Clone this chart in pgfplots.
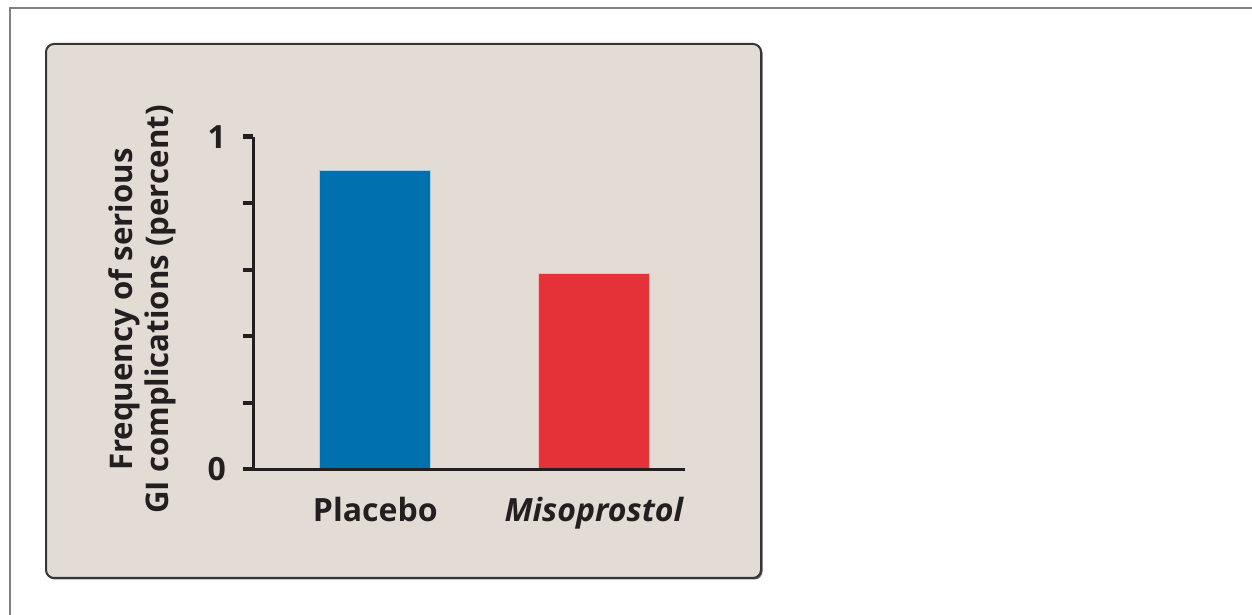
\documentclass[border=0pt]{standalone}
\usepackage{fontspec}
\setmainfont{Open Sans}
\usepackage{pgfplots}
\pgfplotsset{compat=1.18}

\definecolor{panelfill}{RGB}{226,220,212}
\definecolor{barblue}{RGB}{0,112,175}
\definecolor{barred}{RGB}{229,50,56}
\definecolor{framegray}{RGB}{128,128,128}
\definecolor{inkdark}{RGB}{35,31,32}

\newcommand{\ticksfont}{\bfseries\fontsize{16}{19}\selectfont}
\newcommand{\labelfont}{\bfseries\fontsize{15.6}{18}\selectfont}

\begin{document}
\begin{tikzpicture}
% page frame and panel, laid out on a half-point grid
\begin{scope}[x=0.5pt,y=0.5pt]
  \useasboundingbox (0,0) rectangle (1252,615);
  \fill[white] (0,0) rectangle (1252,615);
  \draw[framegray, line width=1pt] (9.5,0) -- (9.5,606.5) -- (1252,606.5);
  \fill[black!60, rounded corners=4pt] (47,35.5) rectangle (762.5,570);
  \filldraw[fill=panelfill, draw=inkdark!90, line width=1pt, rounded corners=4pt]
    (46,37) rectangle (761,571);
\end{scope}

\begin{axis}[
  at={(126.65pt,72.85pt)}, anchor=south west,
  scale only axis, width=215.85pt, height=166.3pt,
  xmin=-0.558, xmax=1.417, ymin=0, ymax=1,
  axis x line*=bottom, axis y line*=left,
  axis line style={-, line width=1.25pt, inkdark},
  axis on top,
  xtick={0,1}, xticklabels={Placebo,\itshape Misoprostol},
  xtick style={draw=none},
  ytick={0,0.2,0.4,0.6,0.8,1}, yticklabels={0,,,,,1},
  tick align=outside, major tick length=5.2pt,
  y tick style={line width=2.2pt, draw=inkdark},
  tick label style={font=\ticksfont, text=inkdark},
  yticklabel style={xshift=-5pt},
  xticklabel style={yshift=-5pt},
  ylabel={Frequency of serious\\GI complications (percent)},
  every axis y label/.style={at={(axis description cs:-0.162,0.48)}, rotate=90,
    anchor=south, font=\labelfont, text=inkdark, align=center},
  clip=false,
]
  \addplot[ybar, bar width=0.507, bar shift=0pt, fill=barblue, draw=barblue!35!white, line width=0.4pt]
    coordinates {(0,0.90)};
  \addplot[ybar, bar width=0.507, bar shift=0pt, fill=barred, draw=barred!35!white, line width=0.4pt]
    coordinates {(1,0.59)};
\end{axis}
\end{tikzpicture}
\end{document}
